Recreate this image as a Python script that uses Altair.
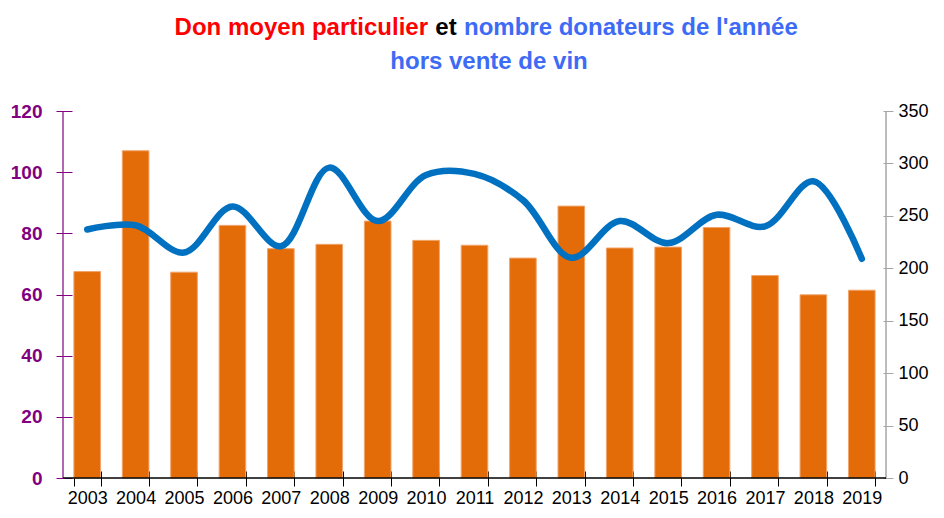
import altair as alt
import pandas as pd

years = [str(y) for y in range(2003, 2020)]
don_moyen = [67.5, 107.0, 67.3, 82.6, 75.0, 76.4, 84.0, 77.7, 76.1, 71.9, 88.9,
             75.2, 75.5, 81.9, 66.2, 59.9, 61.4]
donateurs = [237, 241, 215, 259, 221, 296, 245, 289, 290, 265, 210, 245, 224,
             251, 240, 283, 209]
left_ticks = [0, 20, 40, 60, 80, 100, 120]
right_ticks = [0, 50, 100, 150, 200, 250, 300, 350]

title_red = "Don moyen particulier"
title_black = "et"
title_blue1 = "nombre donateurs de l'année"
title_blue2 = "hors vente de vin"

W, H = 823, 367
FONT = "Liberation Sans, Arial"
PURPLE = "#800080"
ORANGE = "#E36C09"
BLUE = "#0070C0"
TBLUE = "#3D6BF5"

df = pd.DataFrame({"annee": years, "don": don_moyen, "donateurs": donateurs})

x_enc = alt.X(
    "annee:N", sort=years, title=None,
    scale=alt.Scale(paddingInner=0.45, paddingOuter=0.225),
    axis=alt.Axis(labelAngle=0, tickBand="extent", domain=False, offset=-7,
                  grid=False, tickSize=15, tickColor="black", tickWidth=1,
                  labelFont=FONT, labelFontSize=18, labelColor="black",
                  labelPadding=3),
)

bars = alt.Chart(df).mark_bar(color=ORANGE, stroke="#F2A46A", strokeWidth=1).encode(
    x=x_enc,
    y=alt.Y("don:Q", title=None, scale=alt.Scale(domain=[0, 120], nice=False),
            axis=alt.Axis(orient="left", values=left_ticks, domain=False,
                          offset=-9, tickSize=16, tickColor=PURPLE, tickWidth=1,
                          grid=False, labelFont=FONT, labelFontSize=19,
                          labelFontWeight="bold", labelColor=PURPLE,
                          labelPadding=14)),
)

line = alt.Chart(df).mark_line(color=BLUE, strokeWidth=6.5, interpolate="catmull-rom",
                               strokeCap="round", strokeJoin="round").encode(
    x=x_enc,
    y=alt.Y("donateurs:Q", title=None, scale=alt.Scale(domain=[0, 350], nice=False),
            axis=alt.Axis(orient="right", values=right_ticks, domain=False,
                          offset=-3, tickSize=10, tickColor="#A6A6A6", tickWidth=1,
                          grid=False, labelFont=FONT, labelFontSize=18,
                          labelColor="black", labelPadding=5)),
)

one = pd.DataFrame({"k": [0]})
left_dom = alt.Chart(one).mark_rule(color=PURPLE, strokeWidth=1.2).encode(
    x=alt.value(0), y=alt.value(0), y2=alt.value(H))
right_dom = alt.Chart(one).mark_rule(color="#A6A6A6", strokeWidth=1.5).encode(
    x=alt.value(W), y=alt.value(0), y2=alt.value(H))
bottom_dom = alt.Chart(one).mark_rule(color="black", strokeWidth=1.5).encode(
    y=alt.value(H), x=alt.value(0), x2=alt.value(W))

tstyle = dict(font=FONT, fontSize=24, fontWeight="bold", baseline="middle")
t_red = alt.Chart(one).mark_text(color="#FF0000", align="right", **tstyle).encode(
    text=alt.value(title_red), x=alt.value(365), y=alt.value(-83))
t_black = alt.Chart(one).mark_text(color="black", align="center", **tstyle).encode(
    text=alt.value(title_black), x=alt.value(383), y=alt.value(-83))
t_blue1 = alt.Chart(one).mark_text(color=TBLUE, align="left", **tstyle).encode(
    text=alt.value(title_blue1), x=alt.value(401), y=alt.value(-83))
t_blue2 = alt.Chart(one).mark_text(color=TBLUE, align="center", **tstyle).encode(
    text=alt.value(title_blue2), x=alt.value(426), y=alt.value(-49))

chart = alt.layer(
    bars, line, left_dom, right_dom, bottom_dom, t_red, t_black, t_blue1, t_blue2
).resolve_scale(y="independent").properties(
    width=W, height=H,
    background="white",
    autosize=alt.AutoSizeParams(type="none"),
    padding={"left": 55, "top": 103, "right": 50, "bottom": 32},
).configure_view(strokeWidth=0, stroke="transparent").configure_axis(grid=False)

chart.save("out.html", embed_options={"renderer": "svg", "actions": False})
